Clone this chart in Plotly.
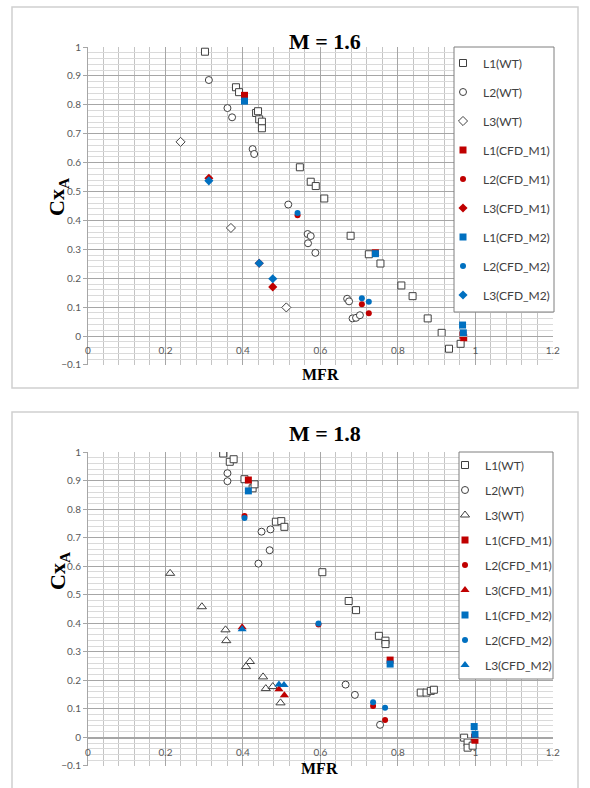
import plotly.graph_objects as go

W, H = 590, 788


def fx(p):
    return p / W


def fy(p):
    return 1 - p / H


# ---------------- M = 1.6 ----------------
a_l1_wt_x = [0.302, 0.382, 0.390, 0.434, 0.439, 0.442, 0.449, 0.449, 0.547, 0.575, 0.588, 0.610,
             0.678, 0.725, 0.755, 0.809, 0.838, 0.877, 0.913, 0.932, 0.962]
a_l1_wt_y = [0.984, 0.861, 0.844, 0.772, 0.778, 0.750, 0.742, 0.719, 0.584, 0.534, 0.519, 0.476,
             0.347, 0.283, 0.251, 0.175, 0.138, 0.061, 0.011, -0.044, -0.027]
a_l2_wt_x = [0.312, 0.360, 0.372, 0.425, 0.429, 0.517, 0.567, 0.575, 0.568, 0.587,
             0.669, 0.674, 0.683, 0.692, 0.702]
a_l2_wt_y = [0.886, 0.789, 0.757, 0.647, 0.630, 0.455, 0.353, 0.346, 0.321, 0.288,
             0.129, 0.120, 0.061, 0.063, 0.072]
a_l3_wt_x = [0.239, 0.369, 0.512]
a_l3_wt_y = [0.672, 0.374, 0.099]
a_l1_m1_x = [0.404, 0.742, 0.968, 0.970]
a_l1_m1_y = [0.833, 0.288, 0.003, -0.006]
a_l2_m1_x = [0.541, 0.707, 0.725]
a_l2_m1_y = [0.418, 0.110, 0.079]
a_l3_m1_x = [0.312, 0.442, 0.477]
a_l3_m1_y = [0.546, 0.252, 0.170]
a_l1_m2_x = [0.404, 0.742, 0.967, 0.969]
a_l1_m2_y = [0.813, 0.285, 0.038, 0.011]
a_l2_m2_x = [0.541, 0.707, 0.725]
a_l2_m2_y = [0.426, 0.131, 0.119]
a_l3_m2_x = [0.312, 0.442, 0.477]
a_l3_m2_y = [0.537, 0.252, 0.198]

# ---------------- M = 1.8 ----------------
b_l1_wt_x = [0.349, 0.366, 0.376, 0.404, 0.425, 0.430, 0.485, 0.499, 0.507, 0.605, 0.673, 0.692,
             0.751, 0.768, 0.768, 0.859, 0.874, 0.885, 0.893, 0.971, 0.980, 0.980, 0.993]
b_l1_wt_y = [0.995, 0.966, 0.975, 0.905, 0.873, 0.887, 0.756, 0.758, 0.738, 0.579, 0.478, 0.446,
             0.356, 0.339, 0.327, 0.157, 0.157, 0.163, 0.167, -0.001, -0.018, -0.036, -0.029]
b_l2_wt_x = [0.360, 0.360, 0.448, 0.471, 0.469, 0.440, 0.665, 0.689, 0.754]
b_l2_wt_y = [0.926, 0.898, 0.721, 0.729, 0.656, 0.609, 0.185, 0.149, 0.044]
b_l3_wt_x = [0.212, 0.294, 0.355, 0.357, 0.418, 0.408, 0.452, 0.459, 0.477, 0.497]
b_l3_wt_y = [0.575, 0.458, 0.377, 0.339, 0.266, 0.248, 0.212, 0.171, 0.178, 0.121]
b_l1_m1_x = [0.414, 0.780, 0.998, 0.999]
b_l1_m1_y = [0.902, 0.271, 0.001, -0.010]
b_l2_m1_x = [0.404, 0.595, 0.736, 0.767]
b_l2_m1_y = [0.776, 0.396, 0.110, 0.061]
b_l3_m1_x = [0.398, 0.493, 0.507]
b_l3_m1_y = [0.386, 0.169, 0.148]
b_l1_m2_x = [0.414, 0.780, 0.997, 0.999]
b_l1_m2_y = [0.864, 0.257, 0.038, 0.011]
b_l2_m2_x = [0.404, 0.595, 0.736, 0.767]
b_l2_m2_y = [0.769, 0.399, 0.123, 0.104]
b_l3_m2_x = [0.398, 0.493, 0.506]
b_l3_m2_y = [0.379, 0.185, 0.184]

RED = "#c00000"
BLUE = "#0070c0"
EDGE = "#404040"

fig = go.Figure()


def add(name, x, y, symbol, size, fill, line, panel):
    xa, ya, lg = ("x", "y", "legend") if panel == 1 else ("x2", "y2", "legend2")
    fig.add_trace(go.Scatter(
        x=x, y=y, mode="markers", name=name,
        xaxis=xa, yaxis=ya, legend=lg, legendgroup=f"{name}-{panel}",
        marker=dict(symbol=symbol, size=size, color=fill,
                    line=dict(color=line, width=1 if fill == "white" else 0)),
    ))


# top panel
add("L1(WT)", a_l1_wt_x, a_l1_wt_y, "square", 7, "white", EDGE, 1)
add("L2(WT)", a_l2_wt_x, a_l2_wt_y, "circle", 7, "white", EDGE, 1)
add("L3(WT)", a_l3_wt_x, a_l3_wt_y, "diamond", 7, "white", EDGE, 1)
add("L1(CFD_M1)", a_l1_m1_x, a_l1_m1_y, "square", 7, RED, RED, 1)
add("L2(CFD_M1)", a_l2_m1_x, a_l2_m1_y, "circle", 6, RED, RED, 1)
add("L3(CFD_M1)", a_l3_m1_x, a_l3_m1_y, "diamond", 7, RED, RED, 1)
add("L1(CFD_M2)", a_l1_m2_x, a_l1_m2_y, "square", 7, BLUE, BLUE, 1)
add("L2(CFD_M2)", a_l2_m2_x, a_l2_m2_y, "circle", 6, BLUE, BLUE, 1)
add("L3(CFD_M2)", a_l3_m2_x, a_l3_m2_y, "diamond", 7, BLUE, BLUE, 1)

# bottom panel
add("L1(WT)", b_l1_wt_x, b_l1_wt_y, "square", 7, "white", EDGE, 2)
add("L2(WT)", b_l2_wt_x, b_l2_wt_y, "circle", 7, "white", EDGE, 2)
add("L3(WT)", b_l3_wt_x, b_l3_wt_y, "triangle-up", 8, "white", EDGE, 2)
add("L1(CFD_M1)", b_l1_m1_x, b_l1_m1_y, "square", 7, RED, RED, 2)
add("L2(CFD_M1)", b_l2_m1_x, b_l2_m1_y, "circle", 6, RED, RED, 2)
add("L3(CFD_M1)", b_l3_m1_x, b_l3_m1_y, "triangle-up", 8, RED, RED, 2)
add("L1(CFD_M2)", b_l1_m2_x, b_l1_m2_y, "square", 7, BLUE, BLUE, 2)
add("L2(CFD_M2)", b_l2_m2_x, b_l2_m2_y, "circle", 6, BLUE, BLUE, 2)
add("L3(CFD_M2)", b_l3_m2_x, b_l3_m2_y, "triangle-up", 8, BLUE, BLUE, 2)

TICKFONT = dict(family="Lato, 'Open Sans', sans-serif", size=10, color="#595959")
MAJ = "#a6a6a6"

x_dom = [fx(88), fx(553)]


def xaxis_cfg(pos):
    return dict(
        domain=x_dom, range=[0, 1.2005], dtick=0.2, tick0=0,
        anchor="free", position=pos,
        showgrid=True, gridcolor=MAJ, gridwidth=1,
        minor=dict(dtick=0.04, tick0=0, showgrid=True, gridcolor="#c4c4c4", gridwidth=1),
        showline=True, linecolor=MAJ, linewidth=1,
        zeroline=False, ticks="", ticklabelstandoff=5,
        tickfont=TICKFONT, automargin=False, fixedrange=True,
    )


def yaxis_cfg(dom, anchor):
    return dict(
        domain=dom, range=[-0.1003, 1.0003], dtick=0.1, tick0=0, anchor=anchor,
        showgrid=True, gridcolor=MAJ, gridwidth=1,
        minor=dict(dtick=0.02, tick0=0, showgrid=True, gridcolor="#dadada", gridwidth=1),
        showline=True, linecolor=MAJ, linewidth=1, mirror=False,
        zeroline=False, ticks="outside", ticklen=4, tickcolor=MAJ,
        tickfont=TICKFONT, automargin=False, fixedrange=True,
    )


xa1 = xaxis_cfg(fy(336.1))
xa2 = xaxis_cfg(fy(737.5))
ya1 = yaxis_cfg([fy(365), fy(47)], "x")
ya2 = yaxis_cfg([fy(766), fy(452)], "x2")

LEGFONT = dict(family="Lato, 'Open Sans', sans-serif", size=12, color="#404040")

SERIF = "'Liberation Serif', 'Times New Roman', serif"

fig.update_layout(
    width=W, height=H, margin=dict(l=0, r=0, t=0, b=0),
    paper_bgcolor="white", plot_bgcolor="white",
    xaxis=xa1, yaxis=ya1, xaxis2=xa2, yaxis2=ya2,
    legend=dict(x=fx(443), y=fy(48.5), xanchor="left", yanchor="top",
                bgcolor="rgba(0,0,0,0)", borderwidth=0, font=LEGFONT,
                traceorder="grouped", tracegroupgap=10, itemwidth=30),
    legend2=dict(x=fx(445), y=fy(450.5), xanchor="left", yanchor="top",
                 bgcolor="rgba(0,0,0,0)", borderwidth=0, font=LEGFONT,
                 traceorder="grouped", tracegroupgap=6, itemwidth=30),
    shapes=[
        dict(type="rect", xref="paper", yref="paper", x0=fx(12), x1=fx(578), y0=fy(388), y1=fy(7),
             line=dict(color="#d0d0d0", width=1.5), fillcolor="rgba(0,0,0,0)", layer="below"),
        dict(type="rect", xref="paper", yref="paper", x0=fx(12), x1=fx(578), y0=fy(800), y1=fy(412),
             line=dict(color="#d0d0d0", width=1.5), fillcolor="rgba(0,0,0,0)", layer="below"),
        dict(type="rect", xref="paper", yref="paper", x0=fx(454), x1=fx(554), y0=fy(312), y1=fy(47),
             line=dict(color="#7f7f7f", width=1), fillcolor="white", layer="above"),
        dict(type="rect", xref="paper", yref="paper", x0=fx(459), x1=fx(553), y0=fy(679), y1=fy(452),
             line=dict(color="#7f7f7f", width=1), fillcolor="white", layer="above"),
    ],
    annotations=[
        dict(text="<b>M = 1.6</b>", x=fx(325), y=fy(27), xref="paper", yref="paper",
             showarrow=False, font=dict(family=SERIF, size=22, color="black")),
        dict(text="<b>M = 1.8</b>", x=fx(325), y=fy(433), xref="paper", yref="paper",
             showarrow=False, font=dict(family=SERIF, size=22, color="black")),
        dict(text="<b>MFR</b>", x=fx(320), y=fy(374), xref="paper", yref="paper",
             showarrow=False, font=dict(family=SERIF, size=16, color="black")),
        dict(text="<b>MFR</b>", x=fx(319), y=fy(779), xref="paper", yref="paper",
             showarrow=False, font=dict(family=SERIF, size=16, color="black")),
        dict(text="<b>Cx<sub>A</sub></b>", x=fx(42), y=fy(176), xref="paper", yref="paper",
             showarrow=False, textangle=-90, font=dict(family=SERIF, size=22, color="black")),
        dict(text="<b>Cx<sub>A</sub></b>", x=fx(43), y=fy(592), xref="paper", yref="paper",
             showarrow=False, textangle=-90, font=dict(family=SERIF, size=22, color="black")),
    ],
)

fig.write_html("out.html")
